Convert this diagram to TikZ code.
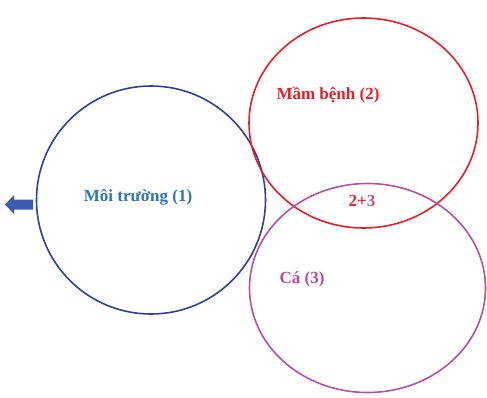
\documentclass[tikz,border=0pt]{standalone}
\usepackage{fontspec}
\setmainfont{Liberation Serif}
\usetikzlibrary{shapes.arrows}
\definecolor{blueline}{HTML}{2F3F9C}
\definecolor{bluetext}{HTML}{2E75B6}
\definecolor{redline}{HTML}{EE1C25}
\definecolor{purpleline}{HTML}{B74FA6}
\definecolor{pinktext}{HTML}{C9439F}
\definecolor{arrowblue}{HTML}{3A5BB0}
\tikzset{
  lbl/.style={font=\bfseries\fontsize{17}{20}\selectfont, inner sep=0pt},
}
\begin{document}
\begin{tikzpicture}[x=1pt,y=-1pt]
\useasboundingbox (0,0) rectangle (487,397);
\draw[blueline, line width=1.6pt] (151,200) ellipse [x radius=114.5, y radius=114];
\draw[redline, line width=1.6pt] (363.5,123) ellipse [x radius=114.5, y radius=105];
\draw[purpleline, line width=1.6pt] (367.5,288) ellipse [x radius=118, y radius=104.5];
\fill[arrowblue] (5,204.5) -- (14,195) -- (14,199.5) -- (33,199.5) -- (33,209.5) -- (14,209.5) -- (14,214) -- cycle;
\node[lbl, text=bluetext] (env) at (138,197) {Môi trường (1)};
\node[lbl, text=redline] (path) at (328,95) {Mầm bệnh (2)};
\node[lbl] (ovl) at (362,201) {\textcolor{redline}{2+}\textcolor{purpleline}{3}};
\node[lbl, text=pinktext] (fish) at (302,279) {Cá (3)};
\end{tikzpicture}
\end{document}
